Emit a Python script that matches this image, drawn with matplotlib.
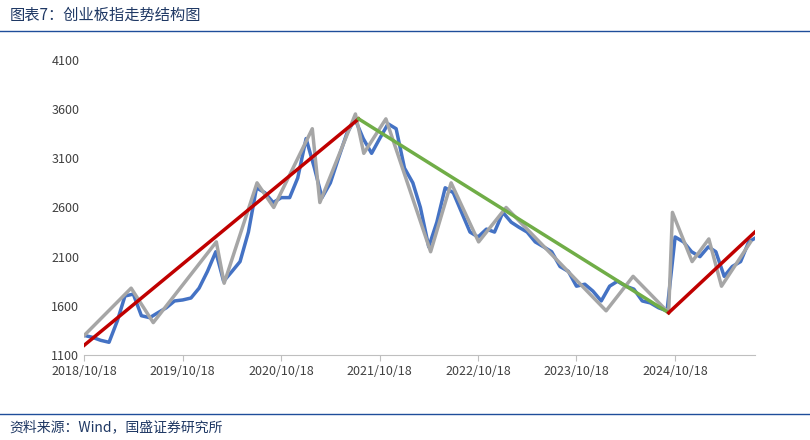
import pandas as pd
import matplotlib.pyplot as plt
import matplotlib.dates as mdates
from matplotlib.lines import Line2D

plt.rcParams['font.family'] = ['Noto Sans CJK SC', 'DejaVu Sans']

# monthly closes of the ChiNext index
index_vals = [1300, 1280, 1250, 1230, 1450, 1700, 1720, 1500, 1480, 1530, 1580, 1650,
              1660, 1680, 1780, 1950, 2150, 1850, 1950, 2050, 2350, 2800, 2750, 2650,
              2700, 2700, 2900, 3300, 3000, 2700, 2850, 3100, 3350, 3500, 3300, 3150,
              3300, 3450, 3400, 3000, 2850, 2600, 2200, 2450, 2800, 2750, 2550, 2350,
              2300, 2380, 2350, 2550, 2450, 2400, 2350, 2250, 2200, 2150, 2000, 1950,
              1800, 1820, 1750, 1650, 1800, 1850, 1800, 1770, 1650, 1630, 1580, 1550,
              2300, 2250, 2150, 2100, 2200, 2150, 1900, 2000, 2050, 2250, 2300]
months = pd.date_range("2018-10-01", periods=len(index_vals), freq="MS") + pd.Timedelta(days=17)

# grey zigzag structure
zz_dates = pd.to_datetime(["2018-10-18", "2019-04-10", "2019-07-01", "2020-02-20", "2020-03-20",
                           "2020-07-20", "2020-09-20", "2021-02-10", "2021-03-10", "2021-07-20",
                           "2021-08-20", "2021-11-10", "2022-04-25", "2022-07-10", "2022-10-20",
                           "2023-01-30", "2024-02-05", "2024-05-15", "2024-09-24", "2024-10-08",
                           "2024-12-20", "2025-02-20", "2025-04-08", "2025-07-25"])
zz_vals = [1300, 1780, 1430, 2250, 1830, 2850, 2600, 3400, 2650, 3550,
           3150, 3500, 2150, 2850, 2250, 2600, 1550, 1900, 1530, 2550,
           2050, 2280, 1800, 2250]

red1_dates = pd.to_datetime(["2018-10-18", "2021-08-01"])
red1_vals = [1200, 3500]
green_dates = pd.to_datetime(["2021-08-01", "2024-09-24"])
green_vals = [3500, 1530]
red2_dates = pd.to_datetime(["2024-09-24", "2025-08-10"])
red2_vals = [1530, 2350]

xticks = pd.to_datetime(["2018-10-18", "2019-10-18", "2020-10-18", "2021-10-18",
                         "2022-10-18", "2023-10-18", "2024-10-18"])

fig = plt.figure(figsize=(8.1, 4.4), dpi=100)
ax = fig.add_axes([0.104, 0.193, 0.828, 0.671])

ax.plot(months, index_vals, color="#4472C4", lw=2.5)
ax.plot(zz_dates, zz_vals, color="#A6A6A6", lw=2.5)
ax.plot(red1_dates, red1_vals, color="#C00000", lw=2.5)
ax.plot(green_dates, green_vals, color="#70AD47", lw=2.5)
ax.plot(red2_dates, red2_vals, color="#C00000", lw=2.5)

ax.set_ylim(1100, 4100)
ax.set_yticks(range(1100, 4101, 500))
ax.set_xlim(pd.Timestamp("2018-10-18"), pd.Timestamp("2025-08-10"))
ax.set_xticks(xticks)
ax.xaxis.set_major_formatter(mdates.DateFormatter("%Y/%m/%d"))
ax.tick_params(labelsize=9, colors="#404040", length=0)
ax.tick_params(axis="x", length=4, color="#BFBFBF", direction="out")
for s in ["top", "right", "left"]:
    ax.spines[s].set_visible(False)
ax.spines["bottom"].set_color("#BFBFBF")

fig.text(0.012, 0.965, "图表7：创业板指走势结构图", fontsize=11, style="italic", color="#1F3864", va="center")
fig.add_artist(Line2D([0.0, 1.0], [0.93, 0.93], color="#1F4E9A", lw=1))
fig.add_artist(Line2D([0.0, 1.0], [0.058, 0.058], color="#1F4E9A", lw=1))
fig.text(0.012, 0.03, "资料来源：Wind，国盛证券研究所", fontsize=10, style="italic", color="#1F3864", va="center")

fig.savefig("out.png", dpi=100)
